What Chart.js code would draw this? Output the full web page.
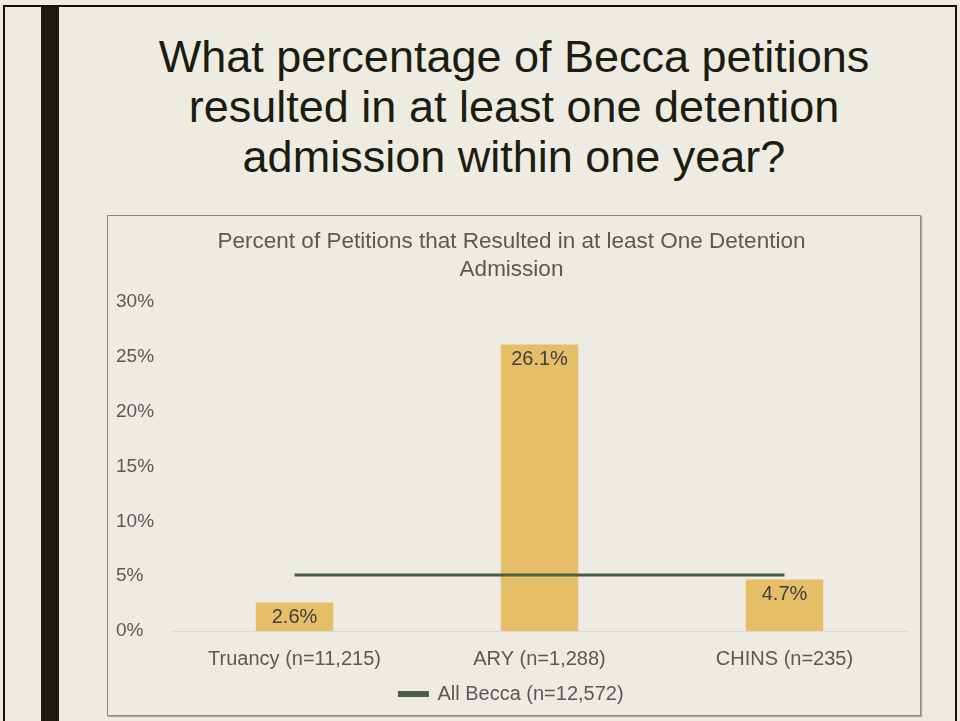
<!DOCTYPE html>
<html>
<head>
  <title>Becca petitions</title>
  <style>
    body { margin: 0; background: #eeebe3; font-family: "Liberation Sans", Arial, sans-serif; }
    .slide { position: absolute; left: 3px; top: 5px; width: 950px; height: 730px; border: 2px solid #111; background: #eeebe3; }
    .sidebar { position: absolute; left: 41px; top: 7px; width: 18px; height: 720px; background: #1c1c10; }
    .heading { position: absolute; left: 107px; top: 32px; width: 814px; text-align: center;
               font-size: 45px; line-height: 50px; color: #1c1c10; }
    .chart-box { position: absolute; left: 107px; top: 215px; width: 812px; height: 499px;
                 border: 1px solid #8a8a8a; box-shadow: 1px 1px 1px #aaa; }
  </style>
</head>
<body>

<div class="slide"></div>
<div class="sidebar"></div>
<div class="heading">What percentage of Becca petitions<br>resulted in at least one detention<br>admission within one year?</div>
<div class="chart-box">
  <canvas id="chart" width="812" height="499"></canvas>
</div>

<script src="https://cdn.jsdelivr.net/npm/chart.js"></script>
<script>
const categories = ['Truancy (n=11,215)', 'ARY (n=1,288)', 'CHINS (n=235)'];
const petitionPercents = [2.6, 26.1, 4.7];
const allBeccaPercent = [5.1, 5.1, 5.1];
const yTicks = [0, 5, 10, 15, 20, 25, 30];

const fontFamily = '"Liberation Sans", Arial, sans-serif';

// draws the value text just inside the top of each bar
const barLabels = {
  id: 'barLabels',
  afterDatasetsDraw(chart) {
    const ctx = chart.ctx;
    const meta = chart.getDatasetMeta(1);
    ctx.save();
    ctx.font = '20px ' + fontFamily;
    ctx.fillStyle = '#404040';
    ctx.textAlign = 'center';
    ctx.textBaseline = 'middle';
    meta.data.forEach((bar, i) => {
      ctx.fillText(petitionPercents[i].toFixed(1) + '%', bar.x, bar.y + 15);
    });
    ctx.restore();
  }
};

new Chart(document.getElementById('chart').getContext('2d'), {
  type: 'bar',
  data: {
    labels: categories,
    datasets: [
      {
        type: 'line',
        label: 'All Becca (n=12,572)',
        data: allBeccaPercent,
        borderColor: '#4b5f47',
        backgroundColor: '#4b5f47',
        borderWidth: 3,
        pointRadius: 0,
        order: 0
      },
      {
        label: 'Percent',
        data: petitionPercents,
        backgroundColor: '#e5be67',
        barPercentage: 0.316,
        categoryPercentage: 1,
        order: 1
      }
    ]
  },
  options: {
    responsive: false,
    animation: false,
    layout: { padding: { left: 8, right: 13, top: 6, bottom: 1 } },
    plugins: {
      title: {
        display: true,
        text: ['Percent of Petitions that Resulted in at least One Detention', 'Admission'],
        color: '#595959',
        font: { size: 22.5, family: fontFamily, weight: 'normal', lineHeight: 1.24 },
        padding: { top: 6, bottom: 18 }
      },
      legend: {
        position: 'bottom',
        labels: {
          filter: item => item.datasetIndex === 0,
          boxWidth: 28,
          boxHeight: 3,
          padding: 5,
          color: '#595959',
          font: { size: 20, family: fontFamily }
        }
      },
      tooltip: { enabled: false }
    },
    scales: {
      x: {
        grid: { display: false },
        border: { color: '#d9d9d9' },
        ticks: { color: '#595959', padding: 8, font: { size: 20, family: fontFamily } }
      },
      y: {
        min: yTicks[0],
        max: yTicks[yTicks.length - 1],
        afterFit: scale => { scale.width = 56; },
        afterBuildTicks: scale => { scale.ticks = yTicks.map(v => ({ value: v })); },
        grid: { display: false },
        border: { display: false },
        ticks: {
          crossAlign: 'far',
          color: '#595959',
          font: { size: 19, family: fontFamily },
          callback: v => v + '%'
        }
      }
    }
  },
  plugins: [barLabels]
});
</script>

</body>
</html>
